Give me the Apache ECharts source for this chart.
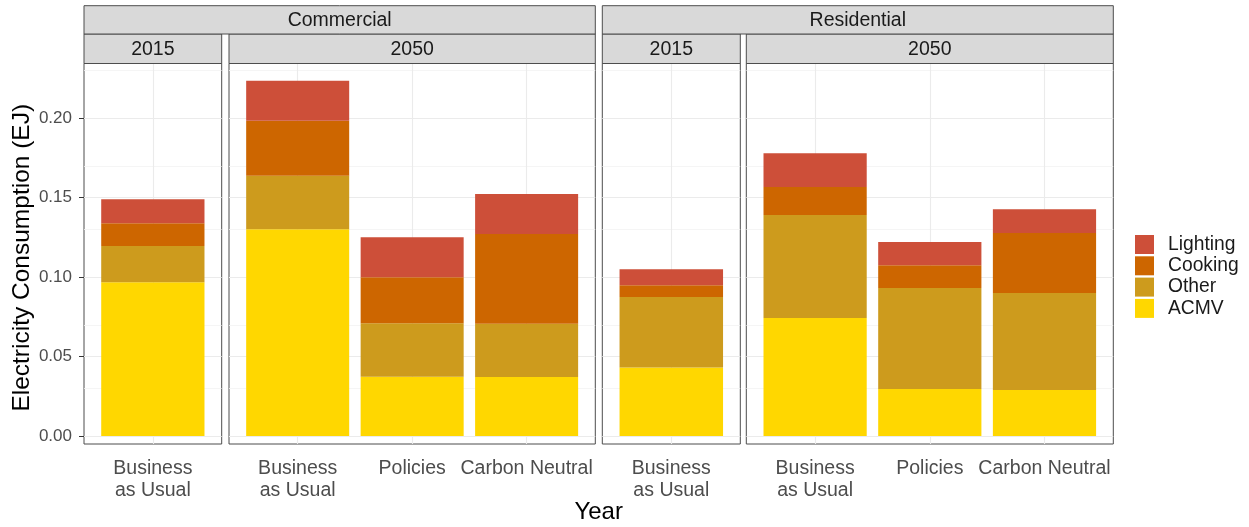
<!DOCTYPE html>
<html>
<head>
<meta charset="utf-8">
<title>Electricity Consumption by End Use</title>
<script src="https://cdn.jsdelivr.net/npm/echarts@6/dist/echarts.min.js"></script>
<style>
  html, body { margin: 0; padding: 0; background: #ffffff; }
  #chart { width: 1249px; height: 527px; }
</style>
</head>
<body>
<div id="chart"></div>
<script>
// ---- data -------------------------------------------------------------
const sectors = ['Commercial', 'Residential'];
const years = ['2015', '2050'];
const scenarios2015 = ['Business\nas Usual'];
const scenarios2050 = ['Business\nas Usual', 'Policies', 'Carbon Neutral'];

// bar order: Commercial 2015 BAU | Commercial 2050 BAU, Policies, Carbon Neutral |
//            Residential 2015 BAU | Residential 2050 BAU, Policies, Carbon Neutral
const acmv     = [0.0968, 0.1302, 0.0373, 0.0372, 0.0432, 0.0743, 0.0296, 0.0290];
const other    = [0.0228, 0.0337, 0.0337, 0.0335, 0.0443, 0.0649, 0.0636, 0.0610];
const cooking  = [0.0143, 0.0345, 0.0289, 0.0565, 0.0074, 0.0176, 0.0143, 0.0378];
const lighting = [0.0151, 0.0252, 0.0252, 0.0252, 0.0101, 0.0212, 0.0147, 0.0150];

const yTicks = [0, 0.05, 0.10, 0.15, 0.20];
const yMinor = [0.025, 0.075, 0.125, 0.175, 0.225];

// ---- layout -----------------------------------------------------------
const FONT = '"Liberation Sans", Arial, Helvetica, sans-serif';
const PANEL_TOP = 63.5;
const PANEL_BOTTOM = 444;
const Y_MIN = -0.005;
const Y_MAX = 0.2345;

// facet panels: sector, year, categories and the slice of bars they hold
const facets = [
  { sector: 0, year: 0, cats: scenarios2015, from: 0, to: 1 },
  { sector: 0, year: 1, cats: scenarios2050, from: 1, to: 4 },
  { sector: 1, year: 0, cats: scenarios2015, from: 4, to: 5 },
  { sector: 1, year: 1, cats: scenarios2050, from: 5, to: 8 }
];
const facetEdges = [[84, 221.7], [229, 595.3], [602.3, 740.3], [746.3, 1113.3]];
const sectorEdges = [[84, 595.3], [602.3, 1113.3]];

const seriesDefs = [
  { name: 'ACMV',     values: acmv,     color: '#FFD700' },
  { name: 'Other',    values: other,    color: '#CD9B1D' },
  { name: 'Cooking',  values: cooking,  color: '#CD6600' },
  { name: 'Lighting', values: lighting, color: '#CD4F39' }
];

const grids = [], xAxes = [], yAxes = [], series = [], graphics = [];

facets.forEach((f, i) => {
  const [x0, x1] = facetEdges[i];
  const w = x1 - x0;
  const n = f.cats.length;
  // discrete scale padded by 0.6 units on each side; categories occupy the middle n units
  const inset = 0.1 * w / (n + 0.2);

  // frame grid: panel background, border, horizontal grid lines, y axis
  const frameIdx = grids.length;
  grids.push({
    left: x0, top: PANEL_TOP, width: w, height: PANEL_BOTTOM - PANEL_TOP,
    show: true, backgroundColor: '#ffffff', borderColor: '#4d4d4d', borderWidth: 1,
    containLabel: false
  });
  xAxes.push({ gridIndex: frameIdx, type: 'value', min: 0, max: 1, show: false });
  yAxes.push({
    gridIndex: frameIdx, type: 'value', min: Y_MIN, max: Y_MAX,
    show: i === 0,
    axisLine: { show: false },
    splitLine: { show: false },
    axisTick: { show: true, length: 5, lineStyle: { color: '#333333' }, customValues: yTicks },
    axisLabel: {
      show: true, customValues: yTicks, margin: 12,
      fontFamily: FONT, fontSize: 17, color: '#4d4d4d',
      formatter: v => v.toFixed(2)
    },
    name: i === 0 ? 'Electricity Consumption (EJ)' : '',
    nameLocation: 'middle', nameRotate: 90, nameGap: 49,
    nameTextStyle: { fontFamily: FONT, fontSize: 24.5, color: '#000000', padding: [0, 0, 0, -8] }
  });
  series.push({
    type: 'line', xAxisIndex: frameIdx, yAxisIndex: frameIdx, data: [], z: 1,
    silent: true, animation: false,
    markLine: {
      silent: true, symbol: ['none', 'none'], animation: false, z: 1,
      label: { show: false },
      data: yTicks.map(v => ({ yAxis: v, lineStyle: { color: '#ebebeb', width: 1.1, type: 'solid' } }))
        .concat(yMinor.map(v => ({ yAxis: v, lineStyle: { color: '#f2f2f2', width: 0.8, type: 'solid' } })))
    }
  });

  // data grid: categories and stacked bars
  const dataIdx = grids.length;
  grids.push({
    left: x0 + inset, top: PANEL_TOP, width: w - 2 * inset, height: PANEL_BOTTOM - PANEL_TOP,
    show: false, containLabel: false
  });
  xAxes.push({
    gridIndex: dataIdx, type: 'category', data: f.cats, boundaryGap: true,
    axisLine: { show: false },
    axisTick: { show: true, alignWithLabel: true, length: 4, lineStyle: { color: '#333333' } },
    splitLine: { show: false },
    axisLabel: {
      interval: 0, margin: 14, fontFamily: FONT, fontSize: 19.5, lineHeight: 22,
      color: '#4d4d4d', align: 'center'
    }
  });
  yAxes.push({ gridIndex: dataIdx, type: 'value', min: Y_MIN, max: Y_MAX, show: false, splitLine: { show: false } });

  // vertical grid lines at category centres
  series.push({
    type: 'line', xAxisIndex: dataIdx, yAxisIndex: dataIdx, data: [], z: 1,
    silent: true, animation: false,
    markLine: {
      silent: true, symbol: ['none', 'none'], animation: false, z: 1,
      label: { show: false },
      data: f.cats.map(c => ({ xAxis: c, lineStyle: { color: '#ebebeb', width: 1.1, type: 'solid' } }))
    }
  });

  seriesDefs.forEach(s => {
    series.push({
      name: s.name, type: 'bar', stack: 'facet' + i,
      xAxisIndex: dataIdx, yAxisIndex: dataIdx,
      barWidth: '90%', z: 3, animation: false,
      itemStyle: { color: s.color },
      emphasis: { disabled: true },
      data: s.values.slice(f.from, f.to)
    });
  });

  // inner strip (year)
  graphics.push({
    type: 'rect', z: 10, silent: true,
    shape: { x: x0, y: 34, width: w, height: PANEL_TOP - 34 },
    style: { fill: '#d9d9d9', stroke: '#4d4d4d', lineWidth: 1 }
  });
  graphics.push({
    type: 'text', z: 11, silent: true,
    x: x0 + w / 2, y: (34 + PANEL_TOP) / 2 + 1,
    style: { text: years[f.year], fontFamily: FONT, fontSize: 19.5, fill: '#1a1a1a', align: 'center', verticalAlign: 'middle' }
  });
});

// outer strips (sector)
sectorEdges.forEach(([x0, x1], s) => {
  graphics.push({
    type: 'rect', z: 10, silent: true,
    shape: { x: x0, y: 5.7, width: x1 - x0, height: 34 - 5.7 },
    style: { fill: '#d9d9d9', stroke: '#4d4d4d', lineWidth: 1 }
  });
  graphics.push({
    type: 'text', z: 11, silent: true,
    x: (x0 + x1) / 2, y: (5.7 + 34) / 2 + 1,
    style: { text: sectors[s], fontFamily: FONT, fontSize: 19.5, fill: '#1a1a1a', align: 'center', verticalAlign: 'middle' }
  });
});

// x axis title
graphics.push({
  type: 'text', z: 11, silent: true,
  x: (84 + 1113.3) / 2, y: 512,
  style: { text: 'Year', fontFamily: FONT, fontSize: 24, fill: '#000000', align: 'center', verticalAlign: 'middle' }
});

const option = {
  animation: false,
  backgroundColor: '#ffffff',
  textStyle: { fontFamily: FONT },
  grid: grids,
  xAxis: xAxes,
  yAxis: yAxes,
  series: series,
  graphic: graphics,
  legend: {
    orient: 'vertical', left: 1130, top: 230,
    itemWidth: 19, itemHeight: 19, itemGap: 2.3,
    icon: 'rect', selectedMode: false,
    data: ['Lighting', 'Cooking', 'Other', 'ACMV'],
    textStyle: { fontFamily: FONT, fontSize: 19.3, color: '#1a1a1a', padding: [0, 0, 0, 9] }
  },
  tooltip: { show: false }
};

const chart = echarts.init(document.getElementById('chart'), null, { renderer: 'canvas' });
chart.setOption(option);
</script>
</body>
</html>
